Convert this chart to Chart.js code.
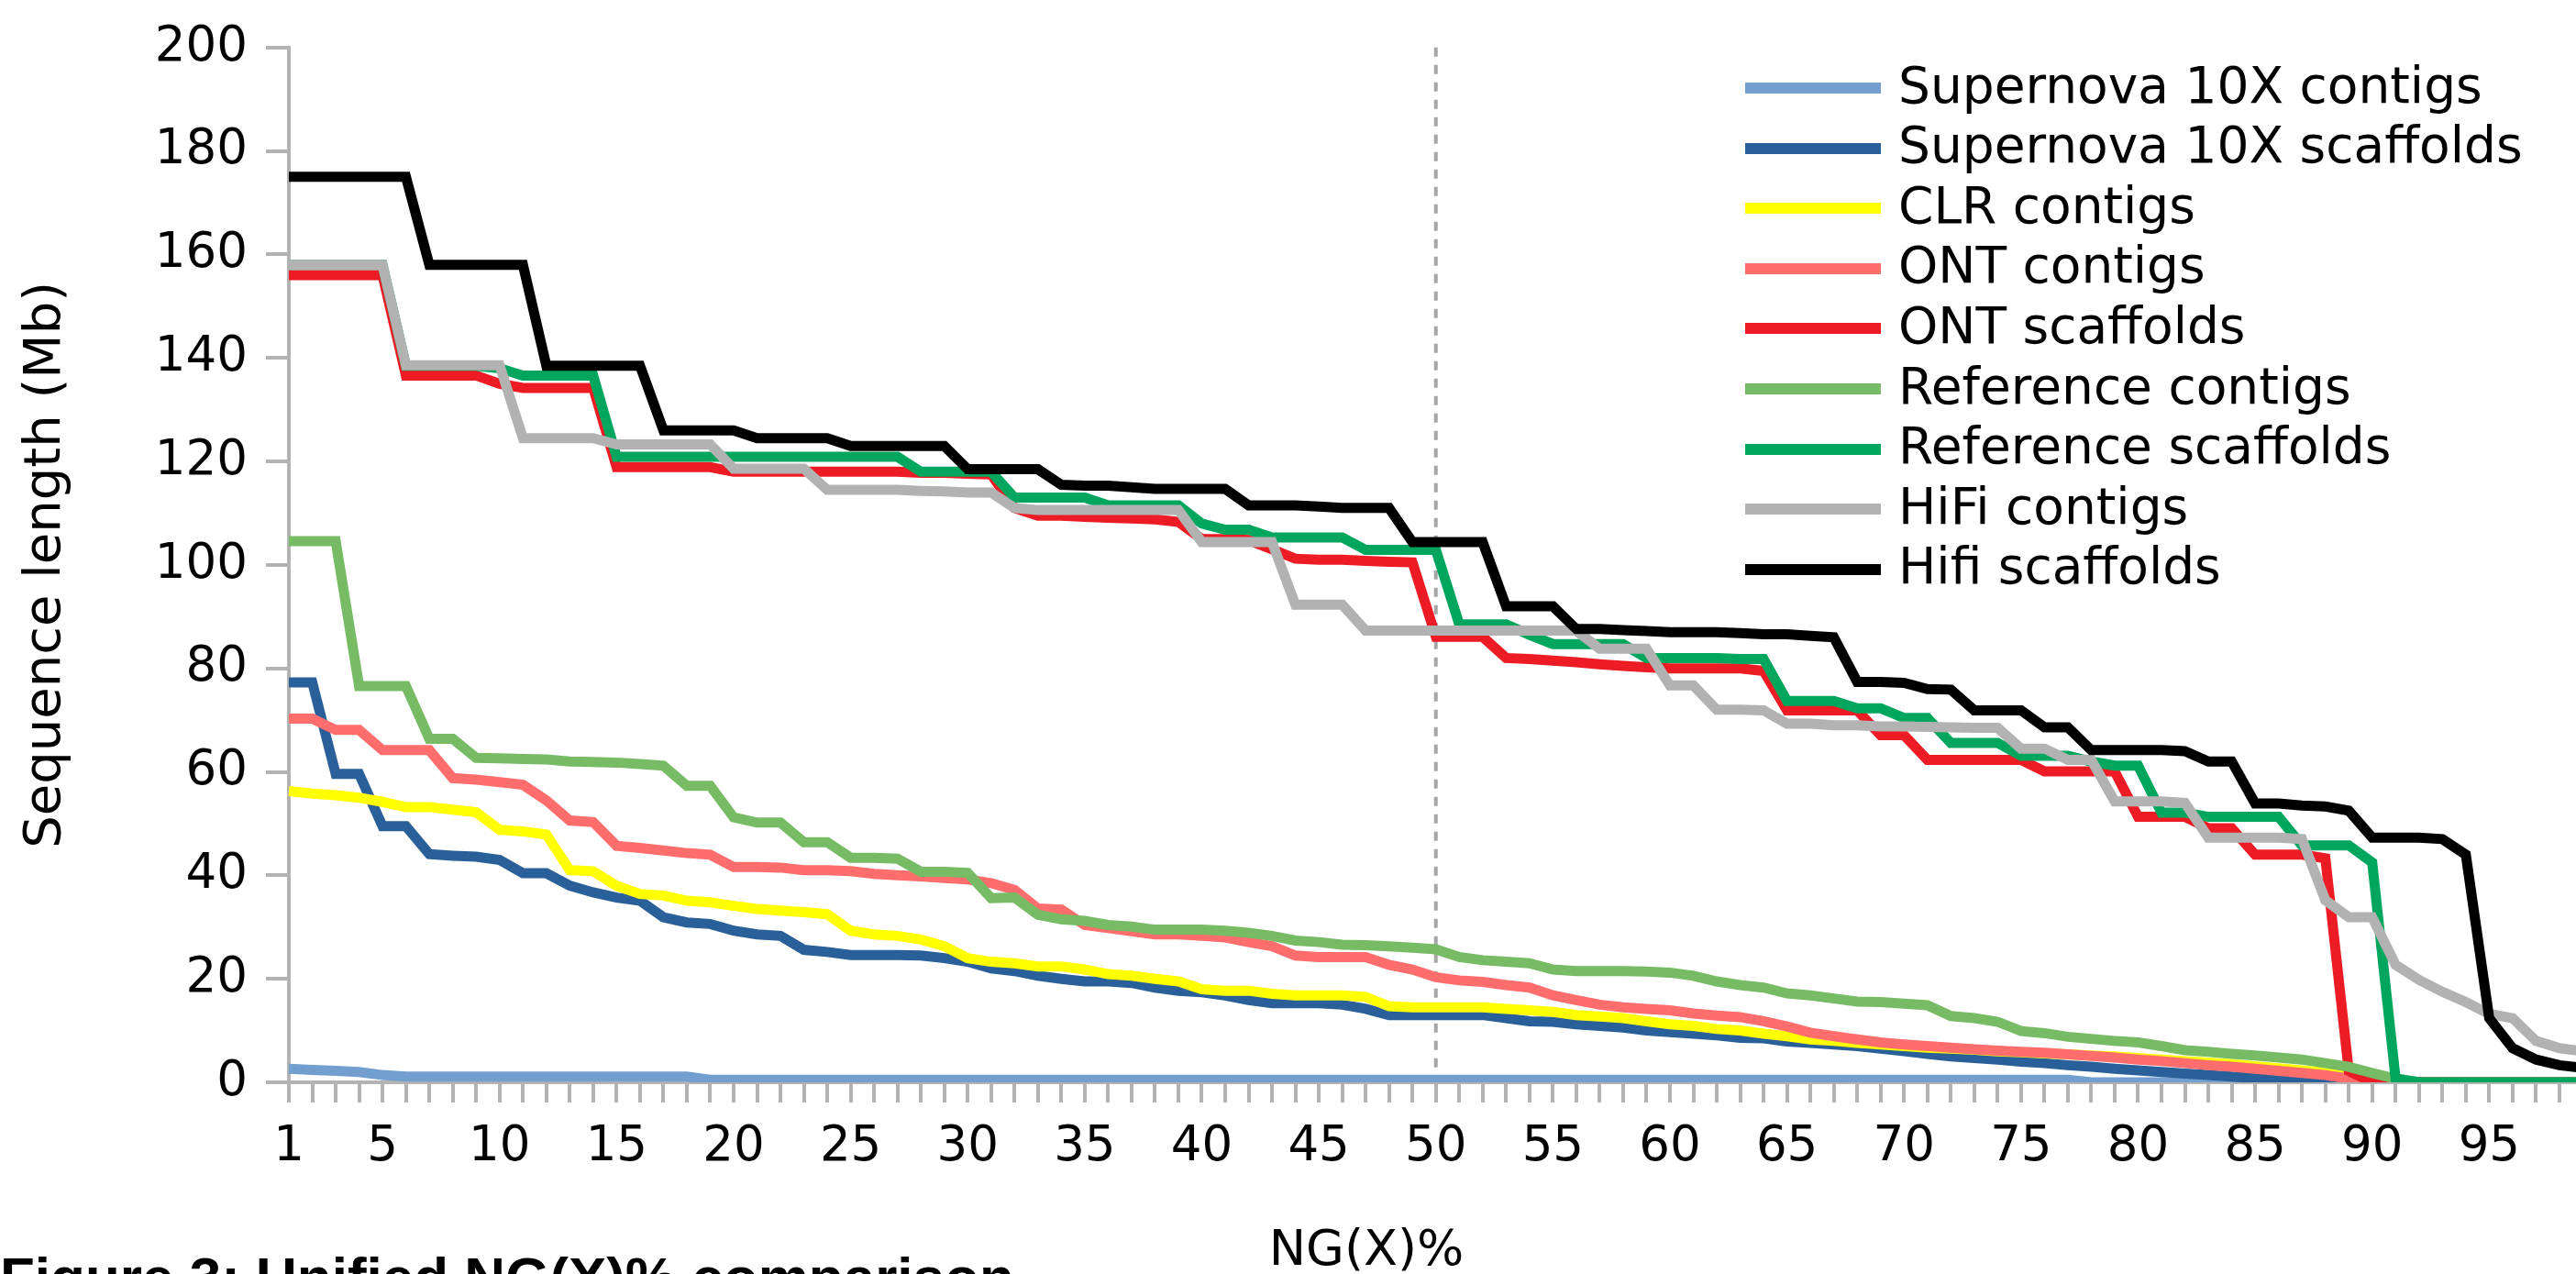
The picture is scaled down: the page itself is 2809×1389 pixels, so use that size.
<!DOCTYPE html>
<html>
<head>
<meta charset="utf-8">
<script src="https://cdn.jsdelivr.net/npm/chart.js@4.4.1/dist/chart.umd.min.js"></script>
<style>
html,body{margin:0;padding:0;background:#fff;overflow:hidden;width:2809px;height:1389px;}
#wrap{position:absolute;left:0;top:0;width:2900px;height:1389px;}
canvas{display:block;}
.sw{position:absolute;left:1903px;width:148px;height:12px;}
.lt{position:absolute;left:2070px;font-family:"DejaVu Sans";font-size:55px;line-height:64px;white-space:nowrap;color:#000;}
#xtitle{position:absolute;left:1190px;width:600px;top:1329px;text-align:center;font-family:"DejaVu Sans";font-size:54px;line-height:64px;color:#000;white-space:nowrap;}
#caption{position:absolute;left:0;top:1362px;font-family:"Liberation Sans";font-weight:bold;font-size:62px;line-height:62px;color:#000;white-space:nowrap;}
</style>
</head>
<body>
<div id="wrap"><canvas id="c" width="2900" height="1389"></canvas></div>
<div id="legend"></div>
<div id="xtitle"></div>
<div id="caption"></div>
<script>
// ---------- DATA ----------
const categories = [1,2,3,4,5,6,7,8,9,10,11,12,13,14,15,16,17,18,19,20,
21,22,23,24,25,26,27,28,29,30,31,32,33,34,35,36,37,38,39,40,
41,42,43,44,45,46,47,48,49,50,51,52,53,54,55,56,57,58,59,60,
61,62,63,64,65,66,67,68,69,70,71,72,73,74,75,76,77,78,79,80,
81,82,83,84,85,86,87,88,89,90,91,92,93,94,95,96,97,98,99,100];

const tickLabels = ["1","5","10","15","20","25","30","35","40","45","50","55","60","65","70","75","80","85","90","95"];

const markerX = 50;

const supernovaContigs = [
2.6,2.4,2.2,2.0,1.4,1.1,1.1,1.1,1.1,1.1,
1.1,1.1,1.1,1.1,1.1,1.1,1.1,1.1,0.5,0.5,
0.5,0.5,0.5,0.5,0.5,0.5,0.5,0.5,0.5,0.5,
0.5,0.5,0.5,0.5,0.5,0.5,0.5,0.5,0.5,0.5,
0.5,0.5,0.5,0.5,0.5,0.5,0.5,0.5,0.5,0.5,
0.5,0.5,0.5,0.5,0.5,0.5,0.5,0.5,0.5,0.5,
0.5,0.5,0.5,0.5,0.5,0.5,0.5,0.5,0.5,0.5,
0.5,0.5,0.5,0.5,0.5,0.5,0.5,0,0,0,
0,0,0,0,0,0,0,0,0,0,
0,0,0,0,0,0,0,0,0,0];

const supernovaScaffolds = [
77.3,77.3,59.6,59.6,49.5,49.5,44.1,43.8,43.6,43.0,
40.4,40.4,38.0,36.7,35.7,35.1,31.9,30.9,30.6,29.3,
28.6,28.3,25.6,25.2,24.6,24.6,24.6,24.5,24.0,23.3,
22.0,21.5,20.6,20.0,19.5,19.5,19.2,18.3,17.7,17.4,
16.8,15.9,15.3,15.3,15.3,15.0,14.2,13.0,13.0,13.0,
13.0,13.0,12.4,11.8,11.7,11.2,10.9,10.6,10.0,9.7,
9.4,9.1,8.6,8.5,7.9,7.6,7.3,7.0,6.5,6.0,
5.5,5.0,4.7,4.4,4.0,3.7,3.3,3.0,2.6,2.3,
2.0,1.7,1.4,1.1,0.8,0.6,0.4,0.2,0,0,
0,0,0,0,0,0,0,0,0,0];

const clrContigs = [
56.3,55.8,55.5,55.0,54.2,53.2,53.2,52.7,52.2,48.8,
48.5,47.9,41.0,40.8,38.0,36.4,36.1,35.1,34.8,34.1,
33.5,33.2,32.9,32.5,29.3,28.6,28.3,27.6,26.3,24.0,
23.3,23.0,22.4,22.4,21.8,20.9,20.6,20.0,19.5,18.0,
17.7,17.7,17.1,16.8,16.8,16.8,16.5,14.7,14.5,14.5,
14.5,14.5,14.2,13.9,13.6,13.0,12.7,12.4,11.8,11.2,
10.9,10.3,10.0,9.4,8.9,8.3,8.0,7.6,7.3,7.0,
6.7,6.5,6.3,6.0,5.8,5.6,5.4,5.2,5.0,4.7,
4.4,4.1,3.8,3.5,3.1,2.7,2.3,1.9,1.3,0.6,
0,0,0,0,0,0,0,0,0,0];

const ontContigs = [
70.3,70.3,68.1,68.1,64.2,64.2,64.2,58.8,58.5,58.0,
57.5,54.5,50.6,50.3,45.7,45.3,44.8,44.3,44.0,41.6,
41.6,41.5,41.0,41.0,40.8,40.3,40.0,39.8,39.5,39.2,
38.5,37.2,33.6,33.4,30.4,29.8,29.2,28.6,28.6,28.3,
28.0,27.1,26.3,24.5,24.2,24.2,24.2,22.7,21.8,20.3,
19.7,19.4,18.8,18.3,16.8,15.9,15.0,14.5,14.2,13.9,
13.3,12.9,12.6,11.8,10.8,9.6,8.9,8.3,7.7,7.3,
7.0,6.7,6.4,6.1,5.9,5.7,5.4,5.1,4.8,4.4,
4.1,3.7,3.3,3.0,2.6,2.2,1.8,1.4,0.7,0,
0,0,0,0,0,0,0,0,0,0];

const ontScaffolds = [
156,156,156,156,156,136.6,136.6,136.6,136.6,135.0,
134.2,134.2,134.2,134.2,118.9,118.9,118.9,118.9,118.9,118.0,
118.0,118.0,118.0,118.0,118.0,118.0,118.0,117.8,117.8,117.6,
117.5,111.0,109.5,109.5,109.3,109.1,109.0,108.8,108.3,105.0,
105.0,104.8,103.0,101.2,101.0,101.0,100.8,100.6,100.5,86.1,
86.1,86.1,82.0,81.8,81.5,81.2,80.8,80.5,80.2,80.0,
80.0,80.0,80.0,79.5,71.9,71.9,71.9,71.9,67.1,67.1,
62.3,62.3,62.3,62.3,62.3,60.1,60.1,60.1,60.1,51.3,
51.3,51.3,49.1,49.1,44.0,44.0,44.0,43.3,2.2,0,
0,0,0,0,0,0,0,0,0,0];

const referenceContigs = [
104.6,104.6,104.6,76.6,76.6,76.6,66.4,66.4,62.7,62.6,
62.5,62.4,62.0,61.9,61.8,61.5,61.2,57.3,57.3,51.2,
50.2,50.2,46.4,46.4,43.4,43.4,43.2,40.7,40.7,40.5,
35.6,35.7,32.4,31.5,31.2,30.4,30.1,29.5,29.5,29.5,
29.3,28.9,28.3,27.4,27.1,26.6,26.5,26.3,26.0,25.7,
24.2,23.6,23.3,23.0,21.8,21.5,21.5,21.5,21.4,21.2,
20.6,19.5,18.8,18.3,17.2,16.8,16.2,15.6,15.5,15.2,
14.9,12.8,12.4,11.7,9.9,9.5,8.8,8.4,8.0,7.7,
7.0,6.2,5.9,5.5,5.2,4.8,4.4,3.7,3.0,1.8,
0.7,0,0,0,0,0,0,0,0,0];

const referenceScaffolds = [
158,158,158,158,158,138.5,138.5,138.5,138.5,138.0,
136.6,136.6,136.6,136.6,120.9,120.9,120.9,120.9,120.9,120.9,
120.9,120.9,120.9,120.9,120.9,120.9,120.9,118.0,118.0,118.0,
118.0,113.0,113.0,113.0,113.0,111.5,111.5,111.5,111.5,108.0,
106.8,106.8,105.3,105.3,105.3,105.3,102.9,102.9,102.9,102.9,
88.5,88.5,88.5,86.5,84.7,84.7,84.7,84.7,82.0,82.0,
82.0,82.0,81.8,81.8,73.7,73.7,73.7,72.3,72.3,70.4,
70.4,65.6,65.6,65.6,63.1,63.1,63.1,62.0,61.2,61.2,
52.1,52.1,51.3,51.3,51.3,51.3,45.8,45.8,45.8,42.5,
0.7,0,0,0,0,0,0,0,0,0];

const hifiContigs = [
158,158,158,158,158,138.6,138.6,138.6,138.6,138.6,
124.5,124.5,124.5,124.5,123.3,123.3,123.3,123.3,123.3,118.6,
118.6,118.6,118.6,114.5,114.5,114.5,114.5,114.3,114.2,114.0,
114.0,111.0,110.6,110.6,110.6,110.6,110.6,110.6,110.6,104.4,
104.4,104.4,104.4,92.3,92.3,92.3,87.3,87.3,87.3,87.3,
87.3,87.3,87.3,87.3,87.3,87.3,83.8,83.8,83.8,76.7,
76.7,72.0,72.0,71.9,69.3,69.3,69.0,69.0,68.8,68.8,
68.7,68.6,68.5,68.5,64.5,64.5,62.3,62.3,54.3,54.3,
54.3,54.0,47.3,47.3,47.3,47.3,47.0,35.2,31.9,31.9,
22.7,19.8,17.5,15.5,13.2,12.4,8.0,6.6,6.0,5.5];

const hifiScaffolds = [
175,175,175,175,175,175,158,158,158,158,
158,138.5,138.5,138.5,138.5,138.5,126,126,126,126,
124.5,124.5,124.5,124.5,123,123,123,123,123,118.5,
118.5,118.5,118.5,115.5,115.3,115.3,115.0,114.7,114.7,114.7,
114.7,111.5,111.5,111.5,111.3,111.0,111.0,111.0,104.4,104.4,
104.4,104.4,92.0,92.0,92.0,87.6,87.6,87.4,87.2,87.0,
87.0,87.0,86.8,86.6,86.6,86.3,86.0,77.4,77.4,77.2,
76.0,75.9,71.9,71.9,71.9,68.6,68.6,64.2,64.2,64.2,
64.2,64.0,62.0,62.0,53.9,53.9,53.5,53.3,52.5,47.3,
47.3,47.3,47.0,44.0,12.4,6.6,4.4,3.3,2.8,2.5];

const seriesLabels = ["Supernova 10X contigs","Supernova 10X scaffolds","CLR contigs","ONT contigs","ONT scaffolds","Reference contigs","Reference scaffolds","HiFi contigs","Hifi scaffolds"];
const seriesColors = ["#729fcf","#2a6099","#ffff00","#ff6d6d","#ed1c24","#77bc65","#00a65d","#b2b2b2","#000000"];
const seriesValues = [supernovaContigs,supernovaScaffolds,clrContigs,ontContigs,ontScaffolds,referenceContigs,referenceScaffolds,hifiContigs,hifiScaffolds];

const xAxisTitle = "NG(X)%";
const yAxisTitle = "Sequence length (Mb)";
const captionText = "Figure 3: Unified NG(X)% comparison";

// ---------- CHART ----------
const FONT = "DejaVu Sans";
const axisGray = "#b3b3b3";

const datasets = seriesLabels.map((lab, i) => ({
  label: lab,
  data: seriesValues[i],
  borderColor: seriesColors[i],
  backgroundColor: seriesColors[i],
  borderWidth: 11,
  pointRadius: 0,
  pointHoverRadius: 0,
  tension: 0,
  fill: false,
  borderJoinStyle: 'miter',
  borderCapStyle: 'butt',
  order: seriesLabels.length - i
}));

const markerPlugin = {
  id: 'ngMarker',
  beforeDatasetsDraw(chart) {
    const xs = chart.scales.x;
    const ys = chart.scales.y;
    const px = xs.getPixelForValue(categories.indexOf(markerX));
    const ctx = chart.ctx;
    ctx.save();
    ctx.strokeStyle = "#a6a6a6";
    ctx.lineWidth = 4;
    ctx.setLineDash([10, 9]);
    ctx.beginPath();
    ctx.moveTo(px, ys.getPixelForValue(ys.max));
    ctx.lineTo(px, ys.getPixelForValue(0));
    ctx.stroke();
    ctx.restore();
  }
};

const chart = new Chart(document.getElementById('c'), {
  type: 'line',
  data: { labels: categories.map(String), datasets },
  options: {
    responsive: false,
    animation: false,
    devicePixelRatio: 1,
    layout: { padding: { left: 0, top: 50, right: 58, bottom: 0 } },
    plugins: { legend: { display: false }, tooltip: { enabled: false }, title: { display: false } },
    scales: {
      x: {
        type: 'category',
        offset: false,
        grid: { display: true, drawOnChartArea: false, drawTicks: true, tickLength: 22, color: axisGray, lineWidth: 4, offset: false },
        border: { display: true, color: axisGray, width: 4 },
        ticks: {
          autoSkip: false, maxRotation: 0, minRotation: 0, padding: 17, color: '#000',
          font: { family: FONT, size: 53 },
          callback: function(v, i) { const s = String(categories[i]); return tickLabels.includes(s) ? s : ''; }
        },
        afterFit: s => { s.height = 209; }
      },
      y: {
        min: 0, max: 200,
        grid: { display: true, drawOnChartArea: false, drawTicks: true, tickLength: 25, color: axisGray, lineWidth: 4 },
        border: { display: true, color: axisGray, width: 4 },
        ticks: { stepSize: 20, padding: 20, color: '#000', font: { family: FONT, size: 53 } },
        title: { display: true, text: yAxisTitle, color: '#000', font: { family: FONT, size: 56 }, padding: { top: 17, bottom: 0 } },
        afterFit: s => { s.width = 315; }
      }
    }
  },
  plugins: [markerPlugin]
});

// ---------- HTML legend, x title, caption ----------
const leg = document.getElementById('legend');
const rowStep = 65.6, base0 = 111.6;
seriesLabels.forEach((lab, i) => {
  const base = base0 + rowStep * i;
  const sw = document.createElement('div');
  sw.className = 'sw';
  sw.style.background = seriesColors[i];
  sw.style.top = (base - 15.6 - 6) + 'px';
  leg.appendChild(sw);
  const t = document.createElement('div');
  t.className = 'lt';
  t.textContent = lab;
  t.style.top = (base - 51) + 'px';
  leg.appendChild(t);
});
document.getElementById('xtitle').textContent = xAxisTitle;
document.getElementById('caption').textContent = captionText;
</script>
</body>
</html>
